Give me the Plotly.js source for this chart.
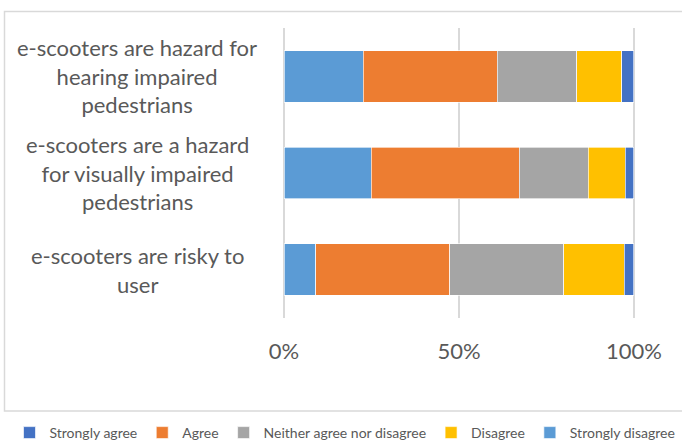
<!DOCTYPE html>
<html>
<head>
<meta charset="utf-8">
<script src="https://cdn.plot.ly/plotly-3.0.1.min.js"></script>
<style>html,body{margin:0;padding:0;background:#fff;}#chart{width:682px;height:443px;}</style>
</head>
<body>
<div id="chart"></div>
<script>
const categories = [
  "e-scooters are risky to<br>user",
  "e-scooters are a hazard<br>for visually impaired<br>pedestrians",
  "e-scooters are hazard for<br>hearing impaired<br>pedestrians"
];
const stronglyDisagree = [9.0, 24.9, 22.7];
const agree = [38.3, 42.3, 38.2];
const neither = [32.6, 19.7, 22.8];
const disagree = [17.3, 10.6, 12.8];
const stronglyAgree = [2.8, 2.5, 3.5];
const xTickVals = [0, 50, 100];
const xTickText = ["0%", "50%", "100%"];

const series = [
  {name: "Strongly disagree", values: stronglyDisagree, color: "#5B9BD5", rank: 5},
  {name: "Agree", values: agree, color: "#ED7D31", rank: 2},
  {name: "Neither agree nor disagree", values: neither, color: "#A5A5A5", rank: 3},
  {name: "Disagree", values: disagree, color: "#FFC000", rank: 4},
  {name: "Strongly agree", values: stronglyAgree, color: "#4472C4", rank: 1}
];

const traces = series.map(s => ({
  type: "bar",
  orientation: "h",
  name: s.name,
  x: s.values,
  y: categories,
  legendrank: s.rank,
  marker: {color: s.color, line: {color: "rgba(255,255,255,0.8)", width: 0.8}},
  hoverinfo: "x+name"
}));

const W = 682, H = 443;
const m = {l: 0, r: 0, t: 28, b: 125, autoexpand: false};
const ph = H - m.t - m.b;
const px = x => x / W;
const py = y => (H - m.b - y) / ph;

const annotations = categories.map(c => ({
  text: c,
  xref: "paper", x: px(137), xanchor: "center",
  yref: "y", y: c, yanchor: "middle",
  showarrow: false, align: "center",
  font: {family: "Lato, 'Open Sans', sans-serif", size: 22, color: "#595959"}
}));

const layout = {
  width: W, height: H,
  margin: m,
  paper_bgcolor: "#fff", plot_bgcolor: "rgba(0,0,0,0)",
  barmode: "stack",
  bargap: 0.467,
  showlegend: true,
  legend: {
    orientation: "h",
    x: px(345), xanchor: "center", y: py(433), yanchor: "middle",
    font: {family: "Lato, 'Open Sans', sans-serif", size: 14, color: "#595959"},
    itemwidth: 30, traceorder: "normal", bgcolor: "rgba(0,0,0,0)"
  },
  xaxis: {
    domain: [px(283), px(635)],
    range: [-0.3, 100.3], tickvals: xTickVals, ticktext: xTickText,
    showgrid: true, gridcolor: "#D9D9D9", gridwidth: 2,
    zeroline: false, showline: false,
    ticks: "outside", ticklen: 14, tickcolor: "rgba(0,0,0,0)",
    tickfont: {family: "Lato, 'Open Sans', sans-serif", size: 22, color: "#595959"},
    fixedrange: true
  },
  yaxis: {
    type: "category", categoryorder: "array", categoryarray: categories,
    range: [-0.5, 2.5], showticklabels: false, showgrid: false, zeroline: false, ticks: "",
    fixedrange: true
  },
  annotations: annotations,
  shapes: [{
    type: "rect", xref: "paper", yref: "paper",
    x0: px(4.5), x1: px(690), y0: py(411), y1: py(11.5),
    line: {color: "#D9D9D9", width: 1.5}, fillcolor: "rgba(0,0,0,0)", layer: "below"
  }]
};

Plotly.newPlot("chart", traces, layout, {displayModeBar: false, staticPlot: true});
</script>
</body>
</html>
